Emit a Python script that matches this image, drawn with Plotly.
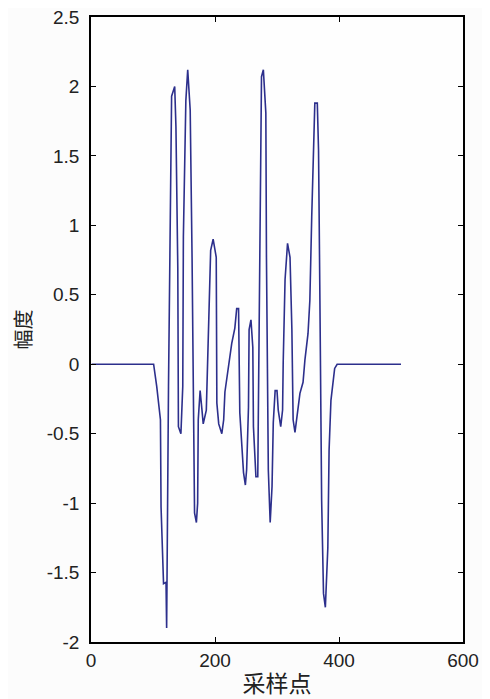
import plotly.graph_objects as go

# sample index and amplitude
sample = [1, 101, 106, 112, 113, 117, 121, 122, 125, 128, 130, 135, 137, 140, 141, 145,
          148, 149, 153, 156, 160, 163, 165, 167, 170, 172, 173, 176, 179, 181, 186, 188,
          191, 193, 197, 202, 203, 206, 211, 214, 216, 222, 227, 232, 235, 238, 240, 246,
          249, 251, 254, 255, 258, 261, 262, 266, 269, 270, 273, 275, 278, 282, 283, 286,
          289, 292, 294, 297, 300, 302, 306, 309, 310, 313, 317, 321, 324, 326, 329, 333,
          337, 342, 345, 350, 353, 356, 359, 361, 365, 367, 369, 372, 375, 378, 382, 384,
          387, 391, 393, 397, 500]
amplitude = [0, 0, -0.16, -0.40, -1.03, -1.58, -1.57, -1.90, -0.16, 1.13, 1.93, 2.00, 1.71, 0.69, -0.45, -0.50,
             -0.16, 0.92, 1.90, 2.12, 1.83, 0.77, -0.45, -1.07, -1.14, -1.00, -0.40, -0.19, -0.33, -0.43, -0.33, 0.01,
             0.46, 0.82, 0.90, 0.77, -0.28, -0.43, -0.50, -0.40, -0.20, 0.01, 0.15, 0.26, 0.40, 0.40, -0.35, -0.78,
             -0.87, -0.76, -0.31, 0.25, 0.32, 0.12, -0.45, -0.81, -0.81, -0.31, 1.28, 2.07, 2.12, 1.81, 0.77, -0.76,
             -1.14, -0.88, -0.42, -0.19, -0.19, -0.33, -0.45, -0.33, 0.01, 0.61, 0.87, 0.77, 0.25, -0.40, -0.49, -0.33,
             -0.21, -0.13, 0.03, 0.22, 0.46, 1.06, 1.59, 1.88, 1.88, 1.54, 0.57, -0.98, -1.65, -1.75, -1.32, -0.62,
             -0.26, -0.11, -0.03, 0, 0]

x_ticks = [0, 200, 400, 600]
y_ticks = [-2, -1.5, -1, -0.5, 0, 0.5, 1, 1.5, 2, 2.5]
y_tick_text = ["-2", "-1.5", "-1", "-0.5", "0", "0.5", "1", "1.5", "2", "2.5"]

fig = go.Figure()

fig.add_trace(go.Scatter(
    x=sample,
    y=amplitude,
    mode="lines",
    line=dict(color="#2c2f8c", width=1.6),
    showlegend=False
))

axis_style = dict(
    showline=True,
    linecolor="black",
    linewidth=1.5,
    mirror="ticks",
    ticks="inside",
    ticklen=5,
    tickcolor="black",
    showgrid=False,
    zeroline=False,
    automargin=False,
    ticklabeloverflow="allow",
    tickfont=dict(family="Liberation Sans, Arial", size=19, color="#222222")
)

fig.update_xaxes(
    range=[0, 600],
    tickvals=x_ticks,
    ticklabelstandoff=0,
    title=dict(text="采样点", font=dict(family="Noto Sans CJK SC", size=23, color="#222222"), standoff=8),
    **axis_style
)
fig.update_yaxes(
    range=[-2, 2.5],
    tickvals=y_ticks,
    ticktext=y_tick_text,
    ticklabelstandoff=6,
    title=dict(text="幅度", font=dict(family="Noto Sans CJK SC", size=20, color="#222222"), standoff=19),
    **axis_style
)

# the page body adds 8px on the left and top, so the figure is 8px smaller
fig.update_layout(
    width=482,
    height=691,
    margin=dict(l=83, r=27, t=9, b=57),
    paper_bgcolor="#fcfcfc",
    plot_bgcolor="#fefefe"
)

fig.write_html("out.html")
